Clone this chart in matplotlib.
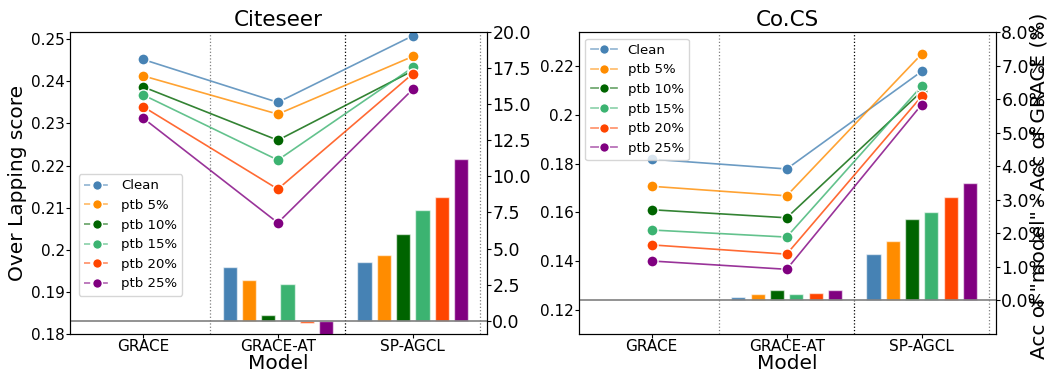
import matplotlib
matplotlib.use("Agg")
import matplotlib.pyplot as plt
from matplotlib.lines import Line2D
from matplotlib.ticker import FuncFormatter
import numpy as np

# Categories and series.
models = ["GRACE", "GRACE-AT", "SP-AGCL"]
series = ["Clean", "ptb 5%", "ptb 10%", "ptb 15%", "ptb 20%", "ptb 25%"]
colors = ["steelblue", "darkorange", "darkgreen", "mediumseagreen", "orangered", "purple"]

# Citeseer: overlapping score (lines) per series, per model.
citeseer_score = [
    [0.2452, 0.2350, 0.2508],
    [0.2413, 0.2322, 0.2459],
    [0.2387, 0.2260, 0.2425],
    [0.2368, 0.2213, 0.2433],
    [0.2340, 0.2144, 0.2418],
    [0.2313, 0.2064, 0.2381],
]
# Citeseer: acc gain over GRACE (bars) for GRACE-AT and SP-AGCL.
citeseer_gain = [
    [3.74, 4.04],
    [2.80, 4.52],
    [0.39, 6.02],
    [2.54, 7.64],
    [-0.14, 8.56],
    [-1.20, 11.17],
]

# Co.CS
cocs_score = [
    [0.1818, 0.1778, 0.2178],
    [0.1707, 0.1668, 0.2249],
    [0.1611, 0.1578, 0.2096],
    [0.1528, 0.1499, 0.2118],
    [0.1467, 0.1429, 0.2076],
    [0.1401, 0.1367, 0.2042],
]
cocs_gain = [
    [0.10, 1.38],
    [0.19, 1.78],
    [0.32, 2.44],
    [0.19, 2.65],
    [0.22, 3.07],
    [0.30, 3.51],
]

fig = plt.figure(figsize=(10.51, 3.73), dpi=100)
ax1 = fig.add_axes([0.0666, 0.1046, 0.3968, 0.8096])
ax2 = fig.add_axes([0.5506, 0.1046, 0.3971, 0.8096])

g_fmt = FuncFormatter(lambda v, p: "{:g}".format(round(v, 3)))


def draw(ax, title, score, gain, ylim, ylim2, ticks2, fmt2, legend_ls, legend_kw):
    x = np.arange(len(models))
    twin = ax.twinx()

    # Lines (a bit transparent) and markers (opaque).
    for i, name in enumerate(series):
        ax.plot(x, score[i], color=colors[i], lw=1.2, alpha=0.8, zorder=3)
        ax.plot(x, score[i], ls="none", marker="o", markersize=8,
                markerfacecolor=colors[i], markeredgecolor="white",
                markeredgewidth=1, zorder=4)

    # Bars for GRACE-AT and SP-AGCL.
    step = 0.143
    for i, name in enumerate(series):
        pos = x[1:] + (i - 2.5) * step
        twin.bar(pos, gain[i], width=0.105, color=colors[i],
                 edgecolor=(1, 1, 1, 0.6), linewidth=1)
    twin.axhline(0, color="gray", lw=1.2)

    # Group separators.
    ax.axvline(0.5, color="gray", ls=":", lw=0.9)
    ax.axvline(1.5, color="black", ls=":", lw=0.9)
    ax.axvline(2.5, color="gray", ls=":", lw=0.9)

    ax.set_xlim(-0.54, 2.55)
    ax.set_ylim(*ylim)
    twin.set_ylim(*ylim2)
    twin.set_yticks(ticks2)
    twin.yaxis.set_major_formatter(FuncFormatter(fmt2))
    ax.yaxis.set_major_formatter(g_fmt)

    ax.set_xticks(x)
    ax.set_xticklabels(models)
    ax.tick_params(labelsize=11, length=3, pad=0.8)
    twin.tick_params(labelsize=12.5, length=3, pad=0.8)
    ax.set_xlabel("Model", fontsize=14.5, labelpad=0)
    ax.set_title(title, fontsize=15.5, pad=4)

    handles = []
    for c in colors:
        ln = Line2D([0], [0], color=c, lw=1.2, ls=legend_ls, alpha=0.6)
        mk = Line2D([0], [0], ls="none", marker="o", markersize=7,
                    markerfacecolor=c, markeredgecolor="white", markeredgewidth=1)
        handles.append((ln, mk))
    ax.legend(handles, series, fontsize=9.5, **legend_kw)
    return twin


draw(ax1, "Citeseer", citeseer_score, citeseer_gain,
     (0.18, 0.2517), (-0.92, 20.0), np.arange(0, 20.01, 2.5),
     lambda v, p: "{:.1f}".format(v), "--",
     dict(loc="lower left", bbox_to_anchor=(0.005, 0.105)))
ax1.set_ylabel("Over Lapping score", fontsize=14.5, labelpad=3)

t2 = draw(ax2, "Co.CS", cocs_score, cocs_gain,
          (0.1102, 0.2339), (-1.0, 8.0), np.arange(0, 8.01, 1.0),
          lambda v, p: "{:.1f}%".format(v), "-",
          dict(loc="upper left"))
t2.set_ylabel('Acc of "model" - Acc of GRACE (%)', fontsize=14.5)
t2.yaxis.set_label_coords(1.079, 0.49)

fig.savefig("out.png", dpi=100)
